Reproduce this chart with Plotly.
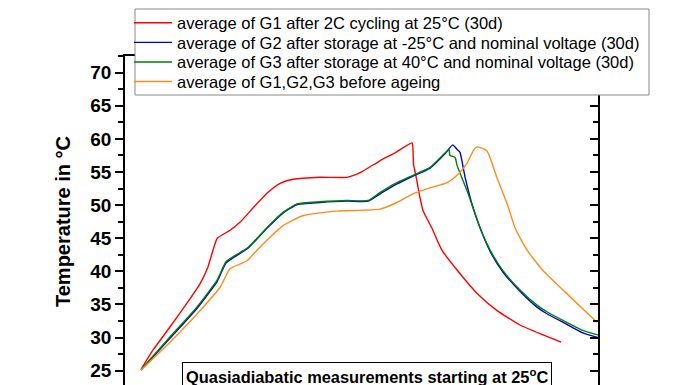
import plotly.graph_objects as go

# time axis (arbitrary units, axis not visible in the reference), temperature in °C
red_t = [3.4, 5.9, 9.5, 13.1, 15.9, 17.5, 18.6, 19.5, 22.2, 24.3, 27.1, 30.0, 32.8, 35.5, 41.2, 46.9, 49.7, 53.9, 57.1,
         60.7, 60.9, 61.0, 61.6, 62.2, 63.0, 64.9, 67.0, 70.2, 74.4, 78.6, 83.5, 88.4, 92.2]
red_T = [25.2, 28.1, 31.6, 35.2, 38.2, 40.6, 43.2, 45.0, 46.2, 47.4, 49.6, 51.8, 53.3, 53.9, 54.2, 54.2, 54.9, 56.7, 57.9,
         59.4, 58.2, 56.2, 54.1, 51.7, 49.2, 46.5, 43.2, 40.2, 36.7, 34.1, 31.9, 30.4, 29.3]

blue_t = [3.4, 9.5, 15.2, 19.5, 21.4, 26.0, 30.0, 33.4, 36.4, 41.2, 46.9, 51.4, 53.9, 57.5, 60.9, 64.5, 67.7,
          69.3, 70.2, 70.8, 71.9, 73.6, 75.1, 77.2, 79.9, 83.5, 87.1, 89.2, 93.4, 96.8, 100.0]
blue_T = [25.1, 29.9, 34.4, 38.5, 41.3, 43.5, 46.5, 48.8, 50.1, 50.4, 50.6, 50.6, 51.7, 53.2, 54.4, 55.6, 57.8,
          59.1, 58.4, 58.0, 54.2, 49.6, 46.5, 43.0, 39.9, 37.0, 34.6, 33.6, 32.0, 30.7, 30.0]

green_t = [3.4, 9.5, 15.2, 19.5, 21.4, 26.0, 30.0, 33.4, 36.4, 41.2, 46.9, 51.4, 53.9, 57.5, 60.9, 64.5, 67.7,
           68.5, 68.7, 69.8, 70.2, 72.3, 75.1, 77.2, 79.9, 83.5, 87.1, 89.2, 93.4, 96.8, 100.0]
green_T = [25.2, 30.1, 34.6, 38.7, 41.5, 43.6, 46.6, 48.9, 50.2, 50.5, 50.7, 50.7, 51.9, 53.4, 54.5, 55.7, 57.9,
           58.4, 57.5, 57.2, 56.0, 52.2, 46.5, 43.2, 40.1, 37.2, 34.9, 33.9, 32.3, 31.1, 30.4]

orange_t = [3.4, 9.5, 15.9, 20.1, 22.2, 25.8, 27.9, 30.0, 33.4, 37.6, 44.8, 53.9, 57.5, 60.9, 64.5, 68.1, 70.2,
            72.3, 73.6, 74.4, 76.5, 78.6, 80.8, 82.5, 85.0, 88.4, 92.6, 97.7, 99.8]
orange_T = [25.1, 29.3, 34.1, 37.6, 40.4, 41.6, 43.2, 44.7, 46.9, 48.4, 49.1, 49.4, 50.4, 51.7, 52.6, 53.4, 54.5,
            56.3, 58.2, 58.8, 58.2, 54.2, 50.2, 46.5, 43.2, 40.1, 37.2, 33.7, 32.3]

names = ["average of G1 after 2C cycling at 25°C (30d)",
         "average of G2 after storage at -25°C and nominal voltage (30d)",
         "average of G3 after storage at 40°C and nominal voltage (30d)",
         "average of G1,G2,G3 before ageing"]
colors = ["#ff0000", "#0000cc", "#008000", "#ff8c1a"]
y_tick_values = [25, 30, 35, 40, 45, 50, 55, 60, 65, 70]
y_title = "Temperature in °C"
box_text = "<b>Quasiadiabatic measurements starting at 25<sup>o</sup>C</b>"

FONT = "Liberation Sans, Arial, sans-serif"
W, H = 696, 385
ML, MR, MT, MB = 125, 98, 56, 0
PW, PH = W - ML - MR, H - MT - MB

legend_ids = ["legend", "legend2", "legend3", "legend4"]
yaxes = ["y", "y", "y", "y2"]

fig = go.Figure()
for t, T, n, c, lg, ya in zip([red_t, blue_t, green_t, orange_t], [red_T, blue_T, green_T, orange_T],
                              names, colors, legend_ids, yaxes):
    fig.add_trace(go.Scatter(x=t, y=T, mode="lines", name=n,
                             line=dict(color=c, width=1.4, shape="spline", smoothing=0.5),
                             legend=lg, yaxis=ya))

yr = [22.84, 72.52]
layout_legends = {}
for i, lg in enumerate(legend_ids):
    layout_legends[lg] = dict(xref="container", yref="container",
                              x=129 / W, y=1 - (23.0 + 19.6 * i) / H, xanchor="left", yanchor="middle",
                              bgcolor="rgba(0,0,0,0)", borderwidth=0, itemwidth=38,
                              font=dict(family=FONT, size=16.5, color="black"))

fig.update_layout(
    width=W, height=H,
    margin=dict(l=ML, r=MR, t=MT, b=MB, autoexpand=False),
    paper_bgcolor="white", plot_bgcolor="white",
    showlegend=True,
    xaxis=dict(range=[0, 100], side="top", showline=True, linecolor="black", linewidth=1.5,
               showticklabels=False, ticks="", showgrid=False, zeroline=False),
    yaxis=dict(range=yr, tickvals=y_tick_values, ticks="outside", ticklen=8, tickwidth=1.5, tickcolor="black",
               showline=True, linecolor="black", linewidth=1.5, showgrid=False, zeroline=False,
               tickfont=dict(family=FONT, size=19, color="black", weight="bold"),
               minor=dict(dtick=2.5, tick0=25, ticks="outside", ticklen=5, tickwidth=1.5, tickcolor="black")),
    yaxis2=dict(range=yr, overlaying="y", side="right", tickvals=y_tick_values, ticks="inside", ticklen=8,
                tickwidth=1.5, tickcolor="black", showline=True, linecolor="black", linewidth=1.5,
                showticklabels=False, showgrid=False, zeroline=False,
                minor=dict(dtick=2.5, tick0=25, ticks="inside", ticklen=5, tickwidth=1.5, tickcolor="black")),
    **layout_legends,
)

# y axis title
fig.add_annotation(xref="paper", yref="paper", x=(63 - ML) / PW, y=(H - 221) / PH, xanchor="center",
                   yanchor="middle", text=f"<b>{y_title}</b>", textangle=-90, showarrow=False,
                   font=dict(family=FONT, size=20, color="black"))

# legend frame
fig.add_shape(type="rect", xref="paper", yref="paper", layer="above",
              x0=(135 - ML) / PW, x1=(649 - ML) / PW, y0=(H - 95) / PH, y1=(H - 9) / PH,
              fillcolor="white", line=dict(color="#888888", width=1))

fig.add_annotation(xref="paper", yref="paper", x=(182 - ML) / PW, y=(H - 362) / PH, xanchor="left", yanchor="top",
                   text=box_text, showarrow=False, font=dict(family=FONT, size=16.4, color="black"),
                   bordercolor="black", borderwidth=1, borderpad=3, bgcolor="white")

fig.write_html("out.html", config={"displayModeBar": False},
               post_script="document.body.style.margin='0';document.body.style.overflow='hidden';")
